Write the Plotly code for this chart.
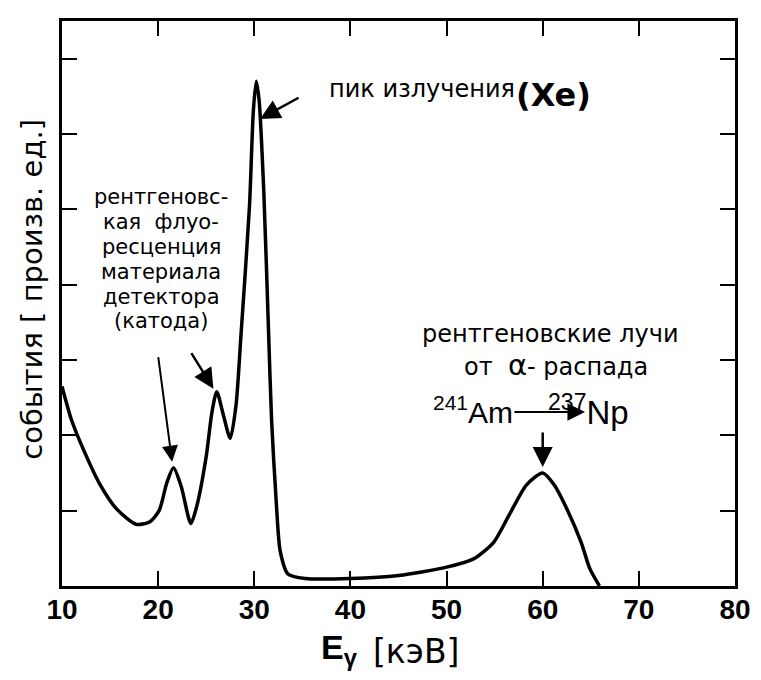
import plotly.graph_objects as go

# --- data ---
energy_kev = [10, 11, 12.2, 13.9, 15.7, 17.7, 19.1, 20.1, 20.9, 21.6, 22.4, 23.4, 24.0,
              25.0, 25.6, 26.1, 26.8, 27.5, 28.1, 28.6, 29.5, 29.9, 30.2, 30.5, 31.0,
              31.5, 31.8, 32.3, 32.7, 33.5, 35.3, 40, 45, 50, 52.8, 54.9, 56.5, 58.3,
              60, 61.2, 62.6, 64.0, 64.9, 65.9]
events = [2.65, 2.2, 1.82, 1.36, 1.02, 0.82, 0.85, 1.0, 1.37, 1.57, 1.32, 0.83, 1.05,
          1.72, 2.31, 2.58, 2.26, 1.96, 2.40, 3.30, 5.04, 6.3, 6.7, 6.45, 5.2,
          3.31, 2.20, 1.08, 0.46, 0.16, 0.1, 0.1, 0.14, 0.25, 0.36, 0.58, 0.94, 1.34,
          1.5, 1.34, 1.0, 0.58, 0.23, 0.0]
x_ticks = [10, 20, 30, 40, 50, 60, 70, 80]
x_tick_labels = ["10", "20", "30", "40", "50", "60", "70", "80"]
y_ticks = [1, 2, 3, 4, 5, 6, 7]

fluor_lines = ["рентгеновс-", "кая  флуо-", "ресценция", "материала", "детектора", "(катода)"]
fluor_y = [5.16, 4.83, 4.50, 4.17, 3.84, 3.52]

TXT = "DejaVu Sans, Liberation Sans, Arial, sans-serif"
NUM = "Liberation Sans, Arial, sans-serif"

fig = go.Figure()
fig.add_trace(go.Scatter(x=energy_kev, y=events, mode="lines",
                         line=dict(color="black", width=3.5, shape="spline", smoothing=0.7),
                         hoverinfo="skip", showlegend=False))

ann = []
# fluorescence text block
for t, yy in zip(fluor_lines, fluor_y):
    ann.append(dict(x=20.3, y=yy, xref="x", yref="y", text=t, showarrow=False,
                    font=dict(family=TXT, size=21, color="black"), xanchor="center", yanchor="middle"))
# arrows to fluorescence peaks
ann.append(dict(x=21.45, y=1.65, xref="x", yref="y", ax=-14, ay=-106, showarrow=True,
                arrowhead=2, arrowsize=1.6, arrowwidth=2, arrowcolor="black", text=""))
ann.append(dict(x=25.75, y=2.62, xref="x", yref="y", ax=-23, ay=-37, showarrow=True,
                arrowhead=2, arrowsize=1.6, arrowwidth=2.5, arrowcolor="black", text=""))
# Xe peak
ann.append(dict(x=30.6, y=6.2, xref="x", yref="y", ax=40, ay=-22, showarrow=True,
                arrowhead=2, arrowsize=1.6, arrowwidth=2.5, arrowcolor="black", text=""))
ann.append(dict(x=37.6, y=6.6, xref="x", yref="y", text="пик излучения", showarrow=False,
                font=dict(family=TXT, size=24, color="black"), xanchor="left", yanchor="middle"))
ann.append(dict(x=57.0, y=6.52, xref="x", yref="y", text="<b>(Xe)</b>", showarrow=False,
                font=dict(family=TXT, size=32, color="black"), xanchor="left", yanchor="middle"))
# Am peak
ann.append(dict(x=60.8, y=3.35, xref="x", yref="y", text="рентгеновские лучи", showarrow=False,
                font=dict(family=TXT, size=24, color="black"), xanchor="center", yanchor="middle"))
ann.append(dict(x=61.4, y=2.93, xref="x", yref="y",
                text="от  <span style='font-size:29px'>α</span>- распада", showarrow=False,
                font=dict(family=TXT, size=24, color="black"), xanchor="center", yanchor="middle"))
ann.append(dict(x=57.1, y=2.33, xref="x", yref="y", text="<sup>241</sup>Am", showarrow=False,
                font=dict(family=NUM, size=30, color="black"), xanchor="right", yanchor="middle"))
ann.append(dict(x=60.3, y=2.33, xref="x", yref="y", text="<sup>237</sup>Np", showarrow=False,
                font=dict(family=NUM, size=33, color="black"), xanchor="left", yanchor="middle"))
ann.append(dict(x=64.4, y=2.31, xref="x", yref="y", ax=56.9, ay=2.31, axref="x", ayref="y",
                showarrow=True, arrowhead=2, arrowsize=1.6, arrowwidth=2.2, arrowcolor="black", text=""))
ann.append(dict(x=60.0, y=1.58, xref="x", yref="y", ax=0, ay=-36, showarrow=True,
                arrowhead=2, arrowsize=1.6, arrowwidth=2.5, arrowcolor="black", text=""))
# axis titles
ann.append(dict(x=-0.044, y=0.525, xref="paper", yref="paper", text="события [ произв. ед.]",
                textangle=-90, showarrow=False, font=dict(family=TXT, size=29, color="black"),
                xanchor="center", yanchor="middle"))
ann.append(dict(x=0.4425, y=-0.113, xref="paper", yref="paper",
                text="<b>E<sub>γ</sub></b>", showarrow=False,
                font=dict(family=NUM, size=34, color="black"), xanchor="right", yanchor="middle"))
ann.append(dict(x=0.4587, y=-0.116, xref="paper", yref="paper",
                text="[кэВ]", showarrow=False,
                font=dict(family=TXT, size=33, color="black"), xanchor="left", yanchor="middle"))

# the page body adds an 8 px margin, so the figure is 8 px smaller in each direction
fig.update_layout(
    width=753, height=672,
    margin=dict(l=54, r=21, t=10, b=94),
    paper_bgcolor="white", plot_bgcolor="white",
    annotations=ann,
    xaxis=dict(range=[10, 80], tickvals=x_ticks, ticktext=["<b>%s</b>" % s for s in x_tick_labels],
               ticks="inside", ticklen=15, tickwidth=2, tickcolor="black",
               showline=True, linewidth=3, linecolor="black", mirror="ticks",
               showgrid=False, zeroline=False, ticklabelstandoff=-4,
               tickfont=dict(family=NUM, size=28, color="black")),
    yaxis=dict(range=[0, 7.5], tickvals=y_ticks, showticklabels=False,
               ticks="inside", ticklen=15, tickwidth=2, tickcolor="black",
               showline=True, linewidth=3, linecolor="black", mirror="ticks",
               showgrid=False, zeroline=False),
)
fig.write_html("out.html")
